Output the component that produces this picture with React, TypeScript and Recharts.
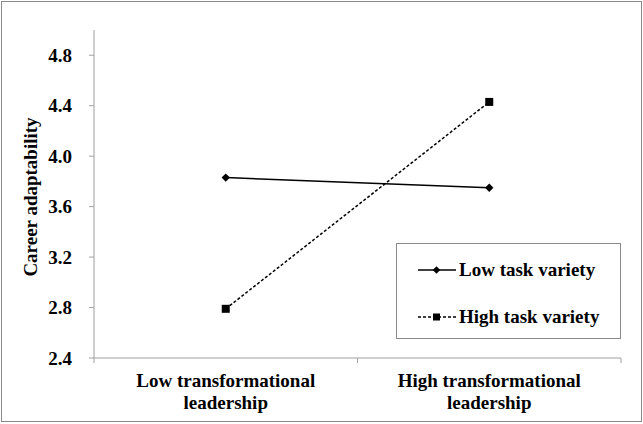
import React from 'react';
import { LineChart, Line, XAxis, YAxis, Legend } from 'recharts';

const categories = ['Low transformational\nleadership', 'High transformational\nleadership'];
const lowTaskVariety = [3.83, 3.75];
const highTaskVariety = [2.79, 4.43];
const yTicks = [2.4, 2.8, 3.2, 3.6, 4.0, 4.4, 4.8];
const seriesNames = ['Low task variety', 'High task variety'];
const yTitle = 'Career adaptability';

const data = categories.map((c, i) => ({
  category: c,
  low: lowTaskVariety[i],
  high: highTaskVariety[i],
}));

const FONT = "'Liberation Serif', 'Times New Roman', serif";
const AXIS_GRAY = '#a0a0a0';
const W = 643;
const H = 424;
const MARGIN = { top: 30, right: 22, bottom: 0, left: 0 };
const Y_AXIS_W = 94;
const X_AXIS_H = 66;
const PLOT_W = W - MARGIN.left - MARGIN.right - Y_AXIS_W;
const HALF_BAND = PLOT_W / 4;

const Diamond = (props: any) => {
  const { cx, cy, index } = props;
  if (cx == null || cy == null) return <g key={`d-${index}`} />;
  const r = 4.2;
  return (
    <path
      key={`d-${index}`}
      d={`M${cx},${cy - r}L${cx + r},${cy}L${cx},${cy + r}L${cx - r},${cy}Z`}
      fill="#000"
      stroke="none"
    />
  );
};

const Square = (props: any) => {
  const { cx, cy, index } = props;
  if (cx == null || cy == null) return <g key={`s-${index}`} />;
  const s = 8;
  return <rect key={`s-${index}`} x={cx - s / 2} y={cy - s / 2} width={s} height={s} fill="#000" />;
};

const XTick = (props: any) => {
  const { x, y, payload, index } = props;
  const lines = String(payload.value).split('\n');
  return (
    <g>
      {index === 0 && (
        <line x1={x - HALF_BAND} y1={y} x2={x - HALF_BAND} y2={y + 5} stroke={AXIS_GRAY} />
      )}
      <line x1={x + HALF_BAND} y1={y} x2={x + HALF_BAND} y2={y + 5} stroke={AXIS_GRAY} />
      {lines.map((l, i) => (
        <text
          key={i}
          x={x}
          y={y + 29 + i * 22}
          textAnchor="middle"
          fontFamily={FONT}
          fontWeight="bold"
          fontSize={19}
          fill="#000"
        >
          {l}
        </text>
      ))}
    </g>
  );
};

const YTitle = (props: any) => {
  const vb = props.viewBox || { x: 0, y: 30, width: 94, height: 328 };
  const cx = vb.x + 37;
  const cy = vb.y + vb.height / 2 + 3;
  return (
    <text
      x={cx}
      y={cy}
      transform={`rotate(-90 ${cx} ${cy})`}
      textAnchor="middle"
      fontFamily={FONT}
      fontWeight="bold"
      fontSize={19}
      fill="#000"
    >
      {yTitle}
    </text>
  );
};

const LegendIcon = ({ dashed }: { dashed: boolean }) => (
  <svg width={40} height={12} style={{ display: 'block' }}>
    <line
      x1={0}
      y1={6}
      x2={38}
      y2={6}
      stroke="#000"
      strokeWidth={1.5}
      strokeDasharray={dashed ? '3 2' : undefined}
    />
    {dashed ? (
      <rect x={15} y={2.5} width={7} height={7} fill="#000" />
    ) : (
      <path d="M18.5,2.2L22.3,6L18.5,9.8L14.7,6Z" fill="#000" />
    )}
  </svg>
);

const renderLegend = () => (
  <div
    style={{
      boxSizing: 'border-box',
      width: 225,
      height: 96,
      border: '1px solid #8a8a8a',
      background: '#fff',
      position: 'relative',
      fontFamily: FONT,
    }}
  >
    {seriesNames.map((name, i) => (
      <div
        key={name}
        style={{
          position: 'absolute',
          left: 21,
          top: (i === 0 ? 26 : 73) - 12,
          height: 24,
          display: 'flex',
          alignItems: 'center',
          whiteSpace: 'nowrap',
        }}
      >
        <LegendIcon dashed={i === 1} />
        <span style={{ marginLeft: 1, fontSize: 19, fontWeight: 'bold', color: '#000', lineHeight: '24px' }}>
          {name}
        </span>
      </div>
    ))}
  </div>
);

export default function App() {
  return (
    <div style={{ position: 'relative', width: W, height: H, background: '#fff' }}>
      <style>{'body{margin:0;}'}</style>
      <div
        style={{
          position: 'absolute',
          left: 1,
          top: 1,
          width: 641,
          height: 421,
          boxSizing: 'border-box',
          border: '1px solid #8a8a8a',
        }}
      />
      <div style={{ position: 'absolute', left: 0, top: 0 }}>
        <LineChart width={W} height={H} data={data} margin={MARGIN}>
          <XAxis
            dataKey="category"
            height={X_AXIS_H}
            padding={{ left: HALF_BAND, right: HALF_BAND }}
            axisLine={{ stroke: AXIS_GRAY }}
            tickLine={false}
            tickSize={0}
            tickMargin={0}
            interval={0}
            tick={<XTick />}
          />
          <YAxis
            type="number"
            width={Y_AXIS_W}
            domain={[2.4, 5.0]}
            ticks={yTicks}
            interval={0}
            tickFormatter={(v: number) => v.toFixed(1)}
            axisLine={{ stroke: AXIS_GRAY }}
            tickLine={{ stroke: AXIS_GRAY }}
            tickSize={5}
            tickMargin={17}
            tick={{ fill: '#000', fontSize: 19, fontWeight: 'bold', fontFamily: FONT }}
            label={(p: any) => <YTitle {...p} />}
          />
          <Legend
            content={renderLegend}
            wrapperStyle={{ left: 396, top: 243, width: 225, height: 0 }}
          />
          <Line
            dataKey="low"
            name={seriesNames[0]}
            stroke="#000"
            strokeWidth={1.5}
            dot={Diamond}
            activeDot={false}
            isAnimationActive={false}
          />
          <Line
            dataKey="high"
            name={seriesNames[1]}
            stroke="#000"
            strokeWidth={1.5}
            strokeDasharray="3 2"
            dot={Square}
            activeDot={false}
            isAnimationActive={false}
          />
        </LineChart>
      </div>
    </div>
  );
}
